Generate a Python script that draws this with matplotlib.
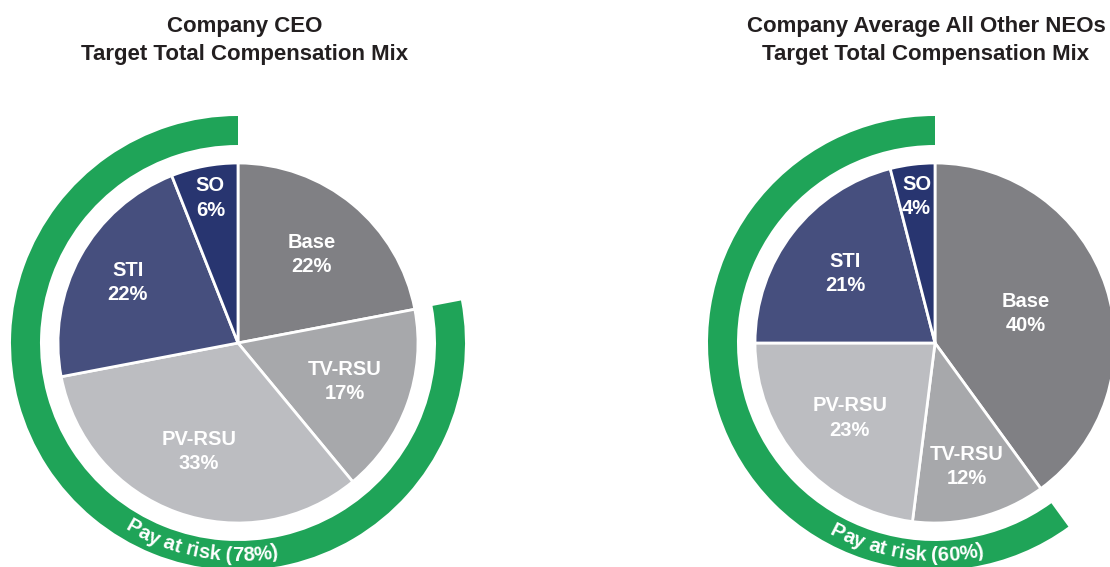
import numpy as np
import matplotlib.pyplot as plt
from matplotlib.patches import Wedge
from matplotlib.font_manager import FontProperties

# compensation mix, clockwise from 12 o'clock
slices = ['Base', 'TV-RSU', 'PV-RSU', 'STI', 'SO']
ceo_mix = [22, 17, 33, 22, 6]
neo_mix = [40, 12, 23, 21, 4]
ceo_title = ['Company CEO', 'Target Total Compensation Mix']
neo_title = ['Company Average All Other NEOs', 'Target Total Compensation Mix']

colors = ['#808084', '#A7A8AB', '#BCBDC1', '#464F7E', '#283570']
green = '#1FA458'
FONT = 'Liberation Sans'

W, H = 1110, 567
fig = plt.figure(figsize=(W / 100, H / 100), dpi=100)
ax = fig.add_axes([0, 0, 1, 1])


def arc_text(ax, s, cx, cy, r, theta0, fp):
    # lay the string out letter by letter along the bottom of a circle
    rend = ax.figure.canvas.get_renderer()

    def w(t):
        return rend.get_text_width_height_descent(t, fp, ismath=False)[0]

    total = w(s)
    start = np.radians(theta0) - (total / 2) / r
    for i, ch in enumerate(s):
        if ch == ' ':
            continue
        c = w(s[:i + 1]) - w(ch) / 2
        th = start + c / r
        ax.text(cx + r * np.cos(th), cy + r * np.sin(th), ch, fontproperties=fp,
                color='white', ha='center', va='baseline',
                rotation=np.degrees(th) + 90, rotation_mode='anchor')


def comp_pie(ax, mix, cx, cy, title, title_x, label_r, text_angle):
    R = 180
    ax.pie(mix, colors=colors, startangle=90, counterclock=False,
           center=(cx, cy), radius=R,
           wedgeprops=dict(edgecolor='white', linewidth=2))

    # slice labels
    start = 90.0
    for name, v, lr in zip(slices, mix, label_r):
        span = v * 3.6
        mid = np.radians(start - span / 2)
        ax.text(cx + lr * R * np.cos(mid), cy + lr * R * np.sin(mid), f'{name}\n{v}%',
                color='white', fontsize=14.5, fontweight='bold', family=FONT,
                ha='center', va='center', linespacing=1.35)
        start -= span

    # green ring over everything except base pay
    at_risk = sum(mix[1:])
    end = 90 - mix[0] * 3.6 + 360
    ax.add_patch(Wedge((cx, cy), 227, 90, end, width=29, facecolor=green,
                       edgecolor='none'))
    fp = FontProperties(family=FONT, weight='bold', size=14.5)
    arc_text(ax, f'Pay at risk ({at_risk}%)', cx, cy, 218, text_angle, fp)

    ax.text(title_x, 535, title[0], fontsize=16, fontweight='bold', family=FONT,
            color='#231F20', ha='center', va='baseline')
    ax.text(title_x, 507, title[1], fontsize=16, fontweight='bold', family=FONT,
            color='#231F20', ha='center', va='baseline')


comp_pie(ax, ceo_mix, 238, 224, ceo_title, 245, [0.64, 0.63, 0.64, 0.70, 0.82], -100.3)
comp_pie(ax, neo_mix, 935, 224, neo_title, 926, [0.53, 0.71, 0.63, 0.63, 0.82], -98.0)

ax.set_xlim(0, W)
ax.set_ylim(0, H)
ax.set_aspect('auto')
ax.axis('off')

fig.savefig('out.png', dpi=100, facecolor='white')
